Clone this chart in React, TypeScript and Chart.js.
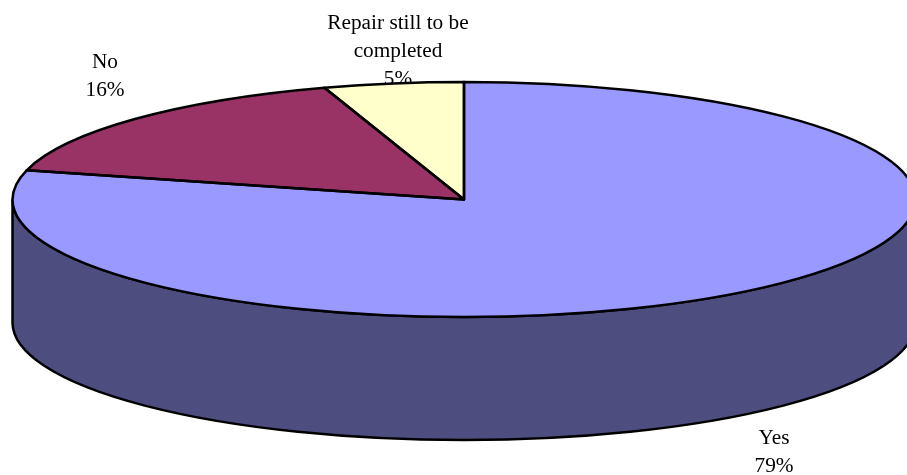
import React, { useEffect, useRef } from "react";
import { Chart, registerables } from "chart.js";

Chart.register(...registerables);

const categories = ["Yes", "No", "Repair still to be completed"];
const shares = [79, 16, 5];
const sliceColours = ["#9999FF", "#993366", "#FFFFCC"];
const wallColour = "#4D4D80";

// Text lines and anchor points for each callout, in canvas pixels.
const calloutLines = [["Yes", "79%"], ["No", "16%"], ["Repair still to be", "completed", "5%"]];
const calloutAnchors = [
  { x: 774, y: 444 },
  { x: 105, y: 68 },
  { x: 398, y: 29 },
];

const FONT = '21.3px "Liberation Serif"';
const LINE_GAP = 28;
const RADIUS_X = 451.5;
const RADIUS_Y = 117.5;
const DEPTH = 123;
const STROKE = 2.5;
const STRETCH = RADIUS_X / RADIUS_Y;

// Flattens the round pie into a tilted disc with a wall below its front half.
const tiltedPie = {
  id: "tiltedPie",
  beforeDatasetsDraw(chart: any) {
    const { ctx } = chart;
    ctx.save();
    ctx.fillStyle = "#000";
    ctx.font = FONT;
    ctx.textAlign = "center";
    ctx.textBaseline = "alphabetic";
    calloutLines.forEach((lines, i) => {
      lines.forEach((t, j) => ctx.fillText(t, calloutAnchors[i].x, calloutAnchors[i].y + j * LINE_GAP));
    });
    ctx.restore();

    const arcs = chart.getDatasetMeta(0).data;
    const { x, y } = arcs[0];
    ctx.save();
    ctx.beginPath();
    ctx.ellipse(x, y + DEPTH, RADIUS_X, RADIUS_Y, 0, 0, Math.PI);
    ctx.ellipse(x, y, RADIUS_X, RADIUS_Y, 0, Math.PI, 0, true);
    ctx.closePath();
    ctx.fillStyle = wallColour;
    ctx.fill();
    ctx.lineWidth = STROKE;
    ctx.strokeStyle = "#000";
    ctx.stroke();
    ctx.restore();
  },
  beforeDatasetDraw(chart: any) {
    const { ctx } = chart;
    const { x, y } = chart.getDatasetMeta(0).data[0];
    ctx.save();
    ctx.translate(x, y);
    ctx.scale(STRETCH, 1);
    ctx.translate(-x, -y);
  },
  afterDatasetDraw(chart: any) {
    chart.ctx.restore();
  },
  afterDatasetsDraw(chart: any) {
    const { ctx } = chart;
    ctx.save();
    ctx.lineWidth = STROKE;
    ctx.strokeStyle = "#000";
    ctx.lineJoin = "round";
    for (const arc of chart.getDatasetMeta(0).data) {
      const { x, y, startAngle, endAngle, outerRadius } = arc.getProps(
        ["x", "y", "startAngle", "endAngle", "outerRadius"],
        true
      );
      ctx.beginPath();
      ctx.moveTo(x, y);
      ctx.ellipse(x, y, outerRadius * STRETCH, outerRadius, 0, startAngle, endAngle);
      ctx.closePath();
      ctx.stroke();
    }
    ctx.restore();
  },
};

export default function App() {
  const ref = useRef<HTMLCanvasElement>(null);

  useEffect(() => {
    const chart = new Chart(ref.current!, {
      type: "pie",
      data: {
        labels: categories,
        datasets: [
          {
            data: shares,
            backgroundColor: sliceColours,
            borderWidth: 0,
            clip: false as any,
          },
        ],
      },
      options: {
        responsive: false,
        animation: false,
        events: [],
        layout: { padding: { top: 82, bottom: 158, left: 346.5, right: 325.5 } },
        plugins: { legend: { display: false }, tooltip: { enabled: false } },
      },
      plugins: [tiltedPie],
    });
    return () => chart.destroy();
  }, []);

  return (
    <div style={{ position: "fixed", left: 0, top: 0, width: 907, height: 475, background: "#fff", overflow: "hidden" }}>
      <canvas ref={ref} width={907} height={475} style={{ display: "block" }} />
    </div>
  );
}
